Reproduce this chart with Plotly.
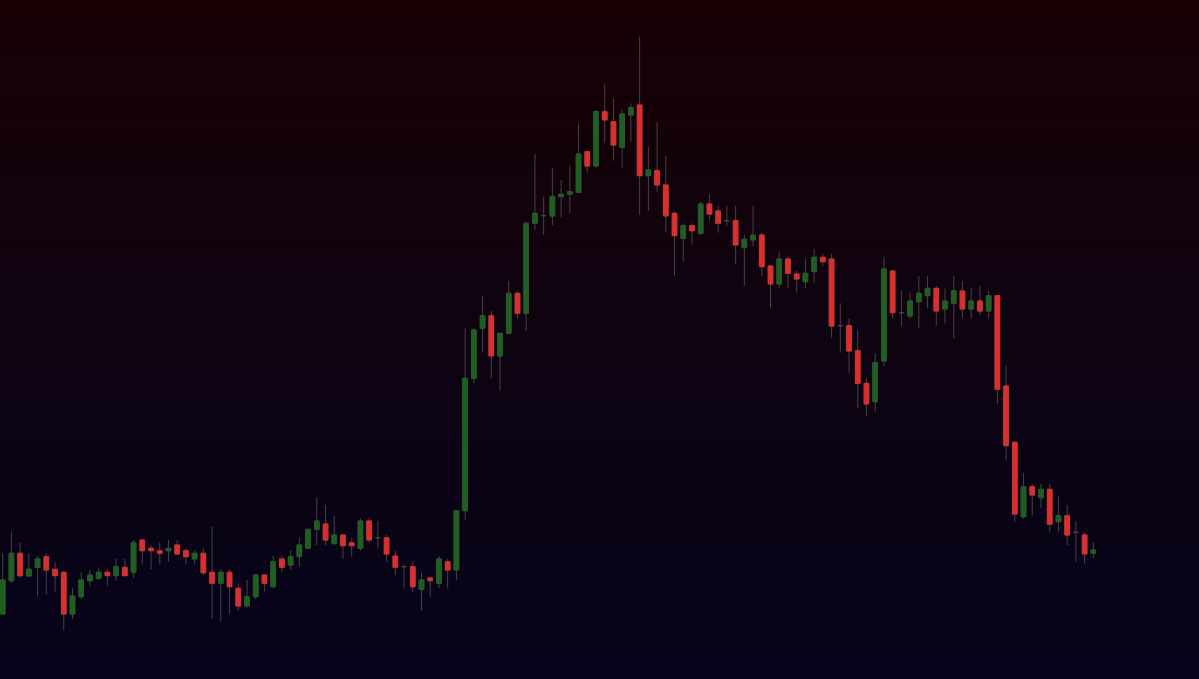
import plotly.graph_objects as go

# OHLC values (price units)
opens = [66, 99.3, 126.7, 104, 112.7, 123.3, 110.7, 107.7, 66, 83.3,
         99.3, 101.7, 107.7, 104.3, 112.7, 107.7, 140, 131.7, 129.3, 129.3,
         135, 129.3, 121, 126.7, 107.7, 96.7, 107.7, 91.7, 74, 83.3,
         105, 93.3, 121, 115, 123.3, 131.7, 150.7, 156, 136.7, 145,
         137.3, 131.7, 159, 142.3, 142.3, 124, 113.3, 113.3, 90.7, 102,
         96.7, 118.3, 110, 169.3, 301.7, 351.7, 364.3, 324, 346.7, 386.7,
         366.7, 456.7, 464.3, 464, 483.3, 485.7, 487.7, 528.3, 514, 568.3,
         558.3, 532.7, 565, 575, 504.3, 509.3, 495, 466.7, 441.7, 454.3,
         446.7, 476, 469, 459.3, 459.3, 432.3, 440, 445, 414, 396,
         421, 406, 398.3, 408.3, 422.7, 421, 354.3, 354.3, 329.3, 296.7,
         278.3, 319, 409, 367.3, 364, 378.3, 384.3, 391.7, 371, 376.7,
         389, 371, 379, 369, 384.3, 294, 237.7, 163.3, 193.3, 182.3,
         190.7, 158.3, 164.3, 147.7, 145, 126.7]
highs = [126.7, 148.3, 137.3, 126.7, 124, 126.7, 118.3, 108.5, 91.7, 107.7,
         110, 112.7, 110.7, 121, 121, 140, 140.5, 135, 137.3, 140,
         140, 131.7, 129.3, 131.7, 153.3, 110.7, 110.7, 96.7, 100, 105.5,
         105.5, 124, 124, 129.3, 142.7, 151.2, 182.7, 175, 164, 145.5,
         142.3, 161.7, 161.7, 159, 145, 129.3, 115.7, 118.3, 107.7, 102.5,
         124, 121, 169.8, 351.7, 351.7, 384.3, 369, 347.2, 399, 389.3,
         458.3, 526, 483.3, 511.7, 500, 514, 556.7, 528.8, 570, 595.7,
         581.7, 570, 576.7, 643.3, 533.3, 558.3, 524, 468.3, 456.7, 456.7,
         478.3, 486, 474, 474, 474, 445, 474, 447.3, 414.5, 428.3,
         423.3, 409.3, 421, 431, 426, 426, 376.7, 361, 350, 301.7,
         326.7, 423.3, 409.5, 389.3, 387.3, 404, 404, 394, 391.7, 404,
         399, 391.7, 394, 389, 384.8, 314, 238.2, 206.7, 196, 196,
         196, 183.3, 175, 159, 147.7, 137.3]
lows = [65.7, 96.7, 101.7, 103.5, 83.3, 85.7, 88.3, 50, 61, 80.7,
        94, 100, 94, 99.3, 103.7, 102.3, 115.7, 110.7, 115.7, 118.3,
        125.5, 115.7, 115.7, 105, 61.7, 58.3, 66.7, 69.3, 72.3, 80.7,
        88.3, 91.7, 107.7, 110.7, 113.3, 131.2, 135, 135, 135, 121,
        123.3, 129.3, 137.3, 131.7, 118.3, 105, 91.7, 88.3, 69.3, 83.3,
        91.7, 91.7, 100, 160, 296.7, 327.3, 301.7, 289.3, 346.2, 361.7,
        349.3, 450, 445, 455, 462.7, 466.7, 487.2, 507.3, 512.3, 537.7,
        519.3, 512.3, 538.3, 465, 469, 488.3, 447.7, 404, 418.3, 435.7,
        445, 459.3, 447.3, 454, 416, 394, 433.3, 404, 371.7, 391.7,
        391.7, 387.3, 391.7, 396.7, 414, 342.3, 327.3, 307.3, 271.7, 264,
        268.3, 314, 361.7, 354, 361.7, 351.7, 371.7, 354, 356.7, 341.7,
        361.7, 361.7, 365, 361.7, 276, 219.3, 158.3, 161, 164.3, 172.3,
        148.3, 148.3, 135, 118.3, 116, 121.7]
closes = [100, 126.7, 104.3, 110.7, 121, 110, 104.3, 66, 84, 100,
          105, 107.7, 104.3, 113.3, 104.3, 137.3, 129.3, 129.3, 126.7, 131.7,
          126, 123.3, 126.7, 107.3, 96.7, 107.7, 93.3, 74, 83.3, 105,
          96.7, 118.3, 112.7, 123.3, 135, 150.7, 159, 140, 145, 134.3,
          134.3, 159, 140, 142.3, 126, 112.7, 113.3, 93.3, 100, 99.3,
          121, 110, 169.3, 301.7, 350, 364.3, 324, 346.7, 386.7, 366.7,
          456.7, 466.7, 464.3, 483.3, 485.7, 488.3, 526, 514, 568.3, 560,
          535, 566, 572.3, 504.3, 510, 495, 464, 444.3, 454.3, 449.3,
          476, 466, 456.7, 459.3, 435, 440.7, 445, 413.3, 396, 421,
          406.7, 401, 406.7, 422.7, 418.3, 354, 354.3, 329, 296.7, 276,
          317.3, 411, 367.3, 367.3, 379, 386.7, 391.7, 369, 379, 389.3,
          371, 379, 369, 384.3, 290.7, 234.3, 166, 193.3, 185, 190.7,
          155.7, 164.3, 145, 147.7, 126, 130]

idx = list(range(len(opens)))

UP = "#1f5f22"
DOWN = "#d9302f"
WICK = "#444444"

# bodies only (no wicks) for the coloured layer
b_open, b_close, b_high, b_low = [], [], [], []
for o, c in zip(opens, closes):
    if abs(o - c) < 0.05:
        b_open.append(None); b_close.append(None); b_high.append(None); b_low.append(None)
    else:
        b_open.append(o); b_close.append(c); b_high.append(max(o, c)); b_low.append(min(o, c))

fig = go.Figure()

# gradient background (on base axes)
fig.add_trace(go.Heatmap(
    x=[0, 1], y=[0, 1], z=[[0, 0], [1, 1]],
    colorscale=[[0, "#06031a"], [0.5, "#0e0311"], [1, "#170004"]],
    zsmooth="best", showscale=False, hoverinfo="skip",
    xaxis="x", yaxis="y"))

# wicks layer
fig.add_trace(go.Candlestick(
    x=idx, open=opens, high=highs, low=lows, close=closes,
    increasing=dict(line=dict(color=WICK, width=1), fillcolor="rgba(0,0,0,0)"),
    decreasing=dict(line=dict(color=WICK, width=1), fillcolor="rgba(0,0,0,0)"),
    whiskerwidth=0, showlegend=False, xaxis="x2", yaxis="y2"))

# bodies layer
fig.add_trace(go.Candlestick(
    x=idx, open=b_open, high=b_high, low=b_low, close=b_close,
    increasing=dict(line=dict(color=UP, width=1), fillcolor=UP),
    decreasing=dict(line=dict(color=DOWN, width=1), fillcolor=DOWN),
    whiskerwidth=0, showlegend=False, xaxis="x2", yaxis="y2"))

hidden = dict(visible=False, showgrid=False, zeroline=False, showticklabels=False)
fig.update_layout(
    width=1199, height=679,
    margin=dict(l=0, r=0, t=0, b=0),
    paper_bgcolor="#0b0312", plot_bgcolor="rgba(0,0,0,0)",
    showlegend=False,
    xaxis=dict(range=[0, 1], fixedrange=True, rangeslider=dict(visible=False), **hidden),
    yaxis=dict(range=[0, 1], fixedrange=True, **hidden),
    xaxis2=dict(range=[-0.309, 137.11], overlaying="x", rangeslider=dict(visible=False), **hidden),
    yaxis2=dict(range=[1, 680], overlaying="y", **hidden),
    boxgap=0.24,
)

fig.write_html(
    "out.html",
    config={"displayModeBar": False},
    post_script="document.body.style.margin='0';document.body.style.overflow='hidden';"
                "document.body.style.background='#0b0312';",
)
